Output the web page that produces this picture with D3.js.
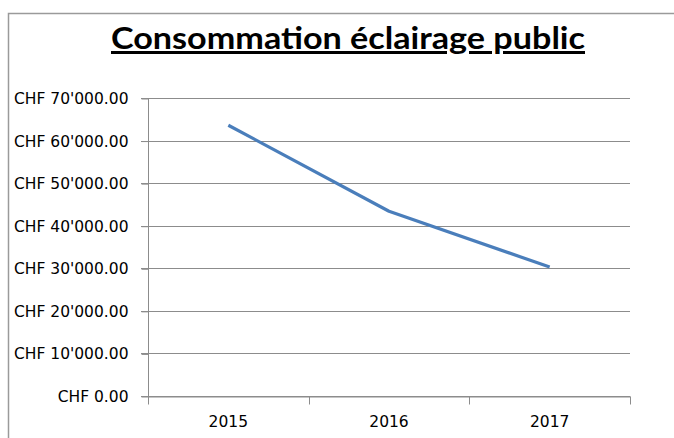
<!DOCTYPE html>
<meta charset="utf-8">
<style>
  html, body { margin: 0; padding: 0; background: #fff; overflow: hidden; }
  .grid line { stroke: #8c8c8c; stroke-width: 1px; }
  .axis text { font-family: "DejaVu Sans", sans-serif; font-size: 15.5px; fill: #000; }
</style>
<body></body>
<script src="https://cdn.jsdelivr.net/npm/d3@7"></script>
<script>

  var width = 674, height = 438;

  // data
  var years = ["2015", "2016", "2017"];
  var costs = [63600, 43400, 30300];
  var yTicks = [0, 10000, 20000, 30000, 40000, 50000, 60000, 70000];

  var margin = {left: 148, right: 44, top: 98, bottom: 42};

  var svg = d3.select("body").append("svg")
      .attr("width", width)
      .attr("height", height);

  /* outer frame, only top and left are visible */
  svg.append("path")
      .attr("d", "M8.5," + height + "V13.5H" + width)
      .attr("fill", "none")
      .attr("stroke", "#9a9a9a")
      .attr("stroke-width", 1.5);

  var x = d3.scaleBand()
      .domain(years)
      .range([margin.left, width - margin.right]);

  var y = d3.scaleLinear()
      .domain([0, 70000])
      .range([height - margin.bottom, margin.top]);

  function chf(v) {
      var s = d3.format(",.2f")(v);
      return "CHF " + s.replace(/,/g, "'");
  }

  /* gridlines */
  svg.append("g")
      .attr("class", "grid")
      .selectAll("line")
      .data(yTicks)
      .enter().append("line")
      .attr("x1", margin.left - 7)
      .attr("x2", width - margin.right)
      .attr("y1", d => Math.round(y(d)) + 0.5)
      .attr("y2", d => Math.round(y(d)) + 0.5);

  /* y axis */
  var yAxis = svg.append("g")
      .attr("class", "axis")
      .attr("transform", "translate(" + (margin.left + 0.5) + ",0.5)")
      .call(d3.axisLeft(y).tickValues(yTicks).tickFormat(chf).tickSize(7).tickPadding(13));
  yAxis.selectAll("line, path").attr("stroke", "#8c8c8c");
  yAxis.select(".domain").attr("d", "M0," + y(70000) + "V" + y(0));

  /* x axis */
  var xAxis = svg.append("g")
      .attr("class", "axis")
      .attr("transform", "translate(0," + (Math.round(y(0)) + 0.5) + ")")
      .call(d3.axisBottom(x).tickSize(0).tickPadding(19));
  xAxis.select(".domain").attr("stroke", "#8c8c8c");
  xAxis.selectAll(".tick line").remove();
  xAxis.selectAll(".boundary")
      .data(d3.range(years.length + 1))
      .enter().append("line")
      .attr("x1", i => Math.round(margin.left + i * x.bandwidth()) + 0.5)
      .attr("x2", i => Math.round(margin.left + i * x.bandwidth()) + 0.5)
      .attr("y1", 0)
      .attr("y2", 8)
      .attr("stroke", "#8c8c8c");

  /* series */
  var line = d3.line()
      .x((d, i) => x(years[i]) + x.bandwidth() / 2)
      .y(d => y(d));

  svg.append("path")
      .datum(costs)
      .attr("d", line)
      .attr("fill", "none")
      .attr("stroke", "#4a7ebb")
      .attr("stroke-width", 3.2)
      .attr("stroke-linejoin", "round");

  /* title */
  svg.append("text")
      .attr("x", 348)
      .attr("y", 49)
      .attr("text-anchor", "middle")
      .attr("font-family", "Lato, sans-serif")
      .attr("font-weight", "bold")
      .attr("font-size", 30)
      .attr("textLength", 474)
      .attr("lengthAdjust", "spacingAndGlyphs")
      .attr("text-decoration", "underline")
      .text("Consommation éclairage public");

</script>
